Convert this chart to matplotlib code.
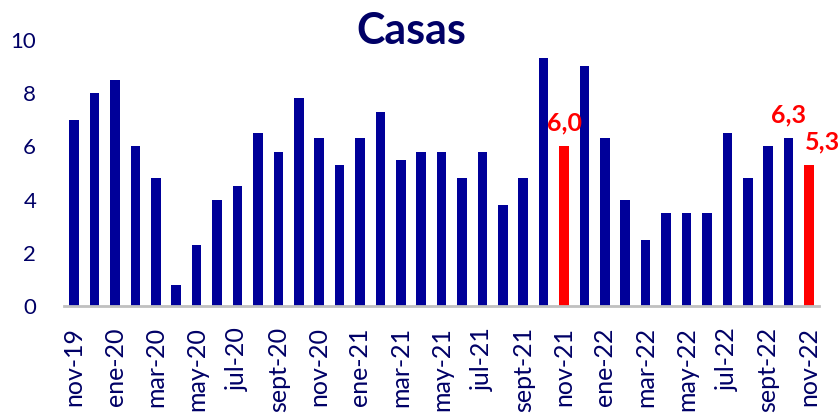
import numpy as np
import matplotlib
matplotlib.use('Agg')
import matplotlib.pyplot as plt

plt.rcParams['font.family'] = ['Lato', 'DejaVu Sans']

months = ['nov-19', 'dic-19', 'ene-20', 'feb-20', 'mar-20', 'abr-20', 'may-20', 'jun-20',
          'jul-20', 'ago-20', 'sept-20', 'oct-20', 'nov-20', 'dic-20', 'ene-21', 'feb-21',
          'mar-21', 'abr-21', 'may-21', 'jun-21', 'jul-21', 'ago-21', 'sept-21', 'oct-21',
          'nov-21', 'dic-21', 'ene-22', 'feb-22', 'mar-22', 'abr-22', 'may-22', 'jun-22',
          'jul-22', 'ago-22', 'sept-22', 'oct-22', 'nov-22']
values = [7.0, 8.0, 8.5, 6.0, 4.8, 0.8, 2.3, 4.0, 4.5, 6.5, 5.8, 7.8, 6.3, 5.3, 6.3, 7.3,
          5.5, 5.8, 5.8, 4.8, 5.8, 3.8, 4.8, 9.3, 6.0, 9.0, 6.3, 4.0, 2.5, 3.5, 3.5, 3.5,
          6.5, 4.8, 6.0, 6.3, 5.3]
highlight = ['nov-21', 'nov-22']
labelled = ['nov-21', 'oct-22', 'nov-22']

navy = '#000099'
text_navy = '#000066'

fig = plt.figure(figsize=(8.4, 4.13), dpi=100)
ax = fig.add_axes([0.0762, 0.258, 0.899, 0.646])

x = np.arange(len(months))
colors = ['#ff0000' if m in highlight else navy for m in months]
ax.bar(x, values, width=0.47, color=colors, zorder=2)

for i, m in enumerate(months):
    if m in labelled:
        dx = 0.65 if m == 'nov-22' else 0
        ax.text(x[i] + dx, values[i] + 0.45, f'{values[i]:.1f}'.replace('.', ','),
                ha='center', va='bottom', color='#ff0000', fontsize=18, fontweight='bold')

ax.set_xlim(-0.5, len(months) - 0.5)
ax.set_ylim(0, 10)
ax.set_yticks([0, 2, 4, 6, 8, 10])
ax.set_xticks(x[::2])
ax.set_xticklabels(months[::2], rotation=90, va='top')
ax.tick_params(axis='both', length=0, labelcolor=text_navy)
ax.tick_params(axis='y', pad=20, labelsize=16)
ax.tick_params(axis='x', pad=15, labelsize=18)

for s in ['top', 'right', 'left']:
    ax.spines[s].set_visible(False)
ax.spines['bottom'].set_color('#c0c0c0')
ax.spines['bottom'].set_linewidth(2)

fig.text(0.49, 0.925, 'Casas', ha='center', va='center', color=text_navy,
         fontsize=31, fontweight='bold')

fig.savefig('out.png', dpi=100)
